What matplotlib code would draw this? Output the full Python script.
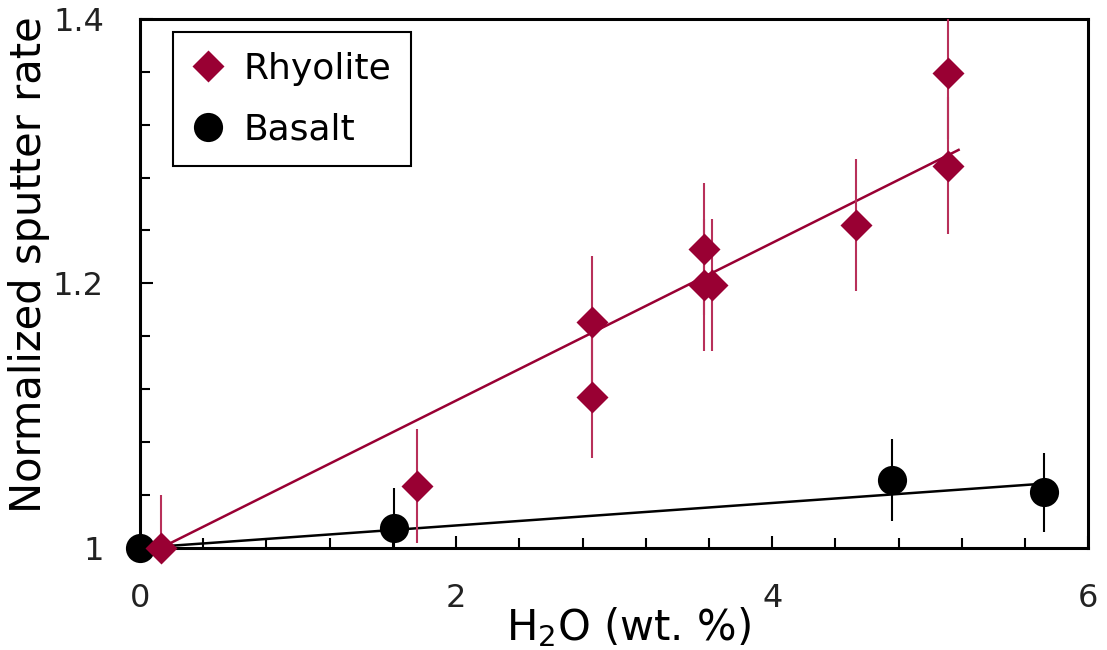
import numpy as np
import matplotlib
matplotlib.use("Agg")
import matplotlib.pyplot as plt
from matplotlib.ticker import MultipleLocator, FixedLocator

plt.rcParams["font.family"] = ["DejaVu Sans"]
plt.rcParams["mathtext.default"] = "regular"

# Rhyolite glasses: water content, normalized sputter rate, uncertainty
rhy_h2o = [0.13, 1.75, 2.86, 2.86, 3.57, 3.57, 3.62, 4.53, 5.11, 5.11]
rhy_rate = [1.000, 1.047, 1.171, 1.114, 1.226, 1.199, 1.199, 1.244, 1.359, 1.289]
rhy_err = [0.040, 0.043, 0.050, 0.046, 0.050, 0.050, 0.050, 0.050, 0.050, 0.052]

# Basalt glasses
bas_h2o = [0.0, 1.61, 4.76, 5.72]
bas_rate = [1.000, 1.015, 1.051, 1.042]
bas_err = [0.0, 0.030, 0.031, 0.030]

# Linear fits: (x start, x end, intercept, slope)
rhy_fit = (0.13, 5.18, 0.9922, 0.0596)
bas_fit = (0.0, 5.66, 1.000, 0.0085)

x_ticks = [0, 2, 4, 6]
y_ticks = [1.0, 1.2, 1.4]
y_tick_labels = ["1", "1.2", "1.4"]

rhy_color = "#990033"
err_rhy_color = "#b8305a"

fig = plt.figure(figsize=(11.07, 6.5), dpi=100)
ax = fig.add_axes([0.1265, 0.157, 0.8565, 0.814])

# fit lines
for fit, col in [(rhy_fit, rhy_color), (bas_fit, "black")]:
    xs = np.array([fit[0], fit[1]])
    ax.plot(xs, fit[2] + fit[3] * xs, color=col, lw=1.8, zorder=2)

ax.errorbar(bas_h2o, bas_rate, yerr=bas_err, fmt="none", ecolor="black",
            elinewidth=1.5, capsize=0, zorder=3)
ax.errorbar(rhy_h2o, rhy_rate, yerr=rhy_err, fmt="none", ecolor=err_rhy_color,
            elinewidth=1.5, capsize=0, zorder=3)

ax.plot(bas_h2o, bas_rate, "o", color="black", ms=21, mec="none",
        label="Basalt", zorder=4, clip_on=False)
ax.plot(rhy_h2o, rhy_rate, "D", color=rhy_color, ms=16, mec="none",
        label="Rhyolite", zorder=5, clip_on=False)

ax.set_xlim(0, 6)
ax.set_ylim(1.0, 1.4)
ax.xaxis.set_major_locator(FixedLocator(x_ticks))
ax.xaxis.set_minor_locator(MultipleLocator(0.4))
ax.yaxis.set_major_locator(FixedLocator(y_ticks))
ax.set_yticklabels(y_tick_labels)
ax.yaxis.set_minor_locator(MultipleLocator(0.04))

ax.tick_params(which="both", direction="in", top=False, right=False,
               labelsize=23, width=1.5, color="black", labelcolor="#222222")
ax.tick_params(axis="x", which="major", length=9, pad=25)
ax.tick_params(axis="x", which="minor", length=7)
ax.tick_params(axis="y", which="major", length=9, pad=26)
ax.tick_params(axis="y", which="minor", length=7)

for sp in ax.spines.values():
    sp.set_linewidth(2.2)

ax.set_xlabel("H$_2$O (wt. %)", fontsize=30)
ax.xaxis.set_label_coords(0.515, -0.108)
ax.set_ylabel("Normalized sputter rate", fontsize=30)
ax.yaxis.set_label_coords(-0.095, 0.535)

handles, labels = ax.get_legend_handles_labels()
leg = ax.legend(handles[::-1], labels[::-1], loc="upper left",
                bbox_to_anchor=(0.035, 0.975), fontsize=26, frameon=True,
                fancybox=False, edgecolor="black", framealpha=1,
                handletextpad=0.6, labelspacing=0.73, borderpad=0.55,
                handlelength=0.8, borderaxespad=0)
leg.get_frame().set_linewidth(1.5)

fig.savefig("out.png", dpi=100)
